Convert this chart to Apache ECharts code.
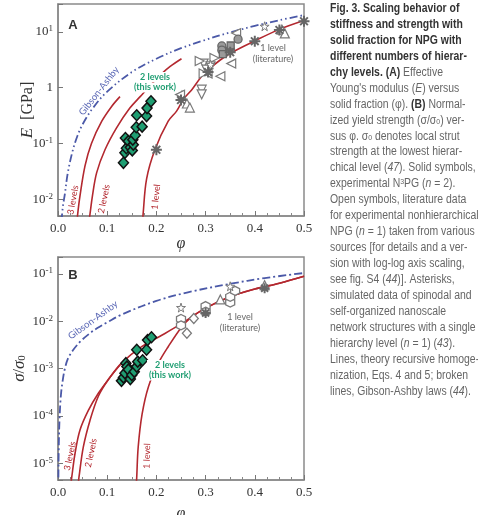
<!DOCTYPE html>
<html><head><meta charset="utf-8">
<script src="https://cdn.jsdelivr.net/npm/echarts@6/dist/echarts.min.js"></script>
<style>html,body{margin:0;padding:0;background:#fff;}#c{width:478px;height:515px;}</style>
</head><body><div id="c"></div>
<script>
// ---------------- DATA ----------------
const xTickValues = [0, 0.1, 0.2, 0.3, 0.4, 0.5];

// Panel A: E [GPa] vs phi
const gibsonAshbyA = [[0.007,0.004],[0.01,0.0075],[0.014,0.0125],[0.02,0.03],[0.03,0.075],[0.04,0.14],[0.05,0.22],[0.07,0.42],[0.1,0.85],[0.15,1.9],[0.2,3.3],[0.25,5.1],[0.3,7.2],[0.35,9.8],[0.4,12.8],[0.45,16.2],[0.5,20]];
const threeLevelsA = [[0.039,0.004],[0.040,0.0054],[0.0447,0.0115],[0.055,0.04],[0.068,0.1],[0.089,0.25],[0.109,0.46],[0.126,0.69]];
const twoLevelsA = [[0.063,0.004],[0.065,0.0054],[0.070,0.0115],[0.0786,0.03],[0.0955,0.077],[0.119,0.19],[0.146,0.43],[0.167,0.69],[0.19,1.15],[0.21,1.75],[0.228,2.4],[0.251,3.3]];
const oneLevelA = [[0.172,0.004],[0.173,0.0054],[0.18,0.023],[0.197,0.077],[0.224,0.25],[0.241,0.38],[0.255,0.62],[0.272,0.92],[0.295,1.7],[0.329,3.1],[0.356,4.4],[0.397,6.7],[0.451,11.2],[0.5,16]];
const greenA = [[0.133,0.045],[0.136,0.068],[0.139,0.082],[0.137,0.125],[0.143,0.11],[0.147,0.085],[0.151,0.075],[0.153,0.095],[0.152,0.117],[0.157,0.14],[0.159,0.195],[0.160,0.32],[0.171,0.2],[0.180,0.31],[0.181,0.43],[0.189,0.57]];
const asteriskA = [[0.2,0.077],[0.25,0.6],[0.305,1.9],[0.35,4.3],[0.4,6.8],[0.45,10.8],[0.5,15.5]];
const triUpA = [[0.252,0.72],[0.262,0.52],[0.268,0.44],[0.455,11],[0.461,9.4]];
const triDownA = [[0.292,0.92],[0.292,0.76],[0.296,2.7],[0.302,2.1],[0.31,2.4]];
const triLeftA = [[0.248,0.75],[0.33,1.6],[0.352,2.7],[0.362,9.5],[0.304,1.8]];
const triRightA = [[0.288,3.0],[0.296,1.8],[0.318,3.4]];
const circleA = [[0.333,5.6],[0.333,4.7],[0.35,4.8],[0.366,7.4]];
const squareA = [[0.351,5.7],[0.335,4.0]];
const starA = [[0.42,12.6],[0.31,2.6]];

// Panel B: sigma/sigma0 vs phi
const gibsonAshbyB = [[0.0008,0.000005],[0.0015,0.00002],[0.003,0.00008],[0.006,0.00028],[0.01,0.0006],[0.014,0.001],[0.02,0.0016],[0.03,0.0024],[0.045,0.0037],[0.062,0.0053],[0.08,0.0072],[0.1,0.0095],[0.13,0.014],[0.2,0.027],[0.264,0.041],[0.35,0.062],[0.42,0.082],[0.5,0.105]];
const threeLevelsB = [[0.026,0.0000035],[0.028,0.0000051],[0.0346,0.000016],[0.0447,0.00005],[0.0617,0.00013],[0.082,0.0003],[0.102,0.00058],[0.129,0.0013],[0.17,0.0029],[0.21,0.005],[0.25,0.0088],[0.3,0.019],[0.35,0.033],[0.4,0.048],[0.45,0.064],[0.5,0.09]];
const twoLevelsB = [[0.041,0.0000035],[0.0427,0.0000051],[0.0515,0.000022],[0.065,0.00008],[0.082,0.00026],[0.102,0.00058],[0.129,0.0013]];
const oneLevelB = [[0.159,0.0000035],[0.16,0.000005],[0.163,0.000022],[0.171,0.00011],[0.184,0.00042],[0.204,0.0013],[0.224,0.0029],[0.251,0.0075],[0.27,0.012],[0.3,0.019],[0.35,0.033],[0.4,0.048],[0.45,0.064],[0.5,0.09]];
const greenB = [[0.129,0.00055],[0.133,0.00065],[0.136,0.0008],[0.138,0.0013],[0.14,0.0011],[0.143,0.00095],[0.147,0.0006],[0.15,0.00073],[0.155,0.00086],[0.16,0.0011],[0.16,0.0025],[0.162,0.0014],[0.172,0.0015],[0.18,0.0025],[0.182,0.004],[0.19,0.0046]];
const starB = [[0.25,0.0195],[0.35,0.055]];
const hexB = [[0.25,0.0112],[0.25,0.0082],[0.3,0.021],[0.35,0.025],[0.35,0.033],[0.36,0.044],[0.3,0.016]];
const diamondB = [[0.262,0.0056],[0.276,0.0115]];
const triUpB = [[0.33,0.029],[0.42,0.058]];
const asteriskB = [[0.3,0.015],[0.42,0.05]];

const captionLines = [
  '{h|Fig. 3. Scaling behavior of}',
  '{h|stiffness and strength with}',
  '{h|solid fraction for NPG with}',
  '{h|different numbers of hierar-}',
  '{h|chy levels. (A)} Effective',
  "Young's modulus ({i|E}) versus",
  'solid fraction (φ). {h|(B)} Normal-',
  'ized yield strength (σ/σ{sub|0}) ver-',
  'sus φ. σ{sub|0} denotes local strut',
  'strength at the lowest hierar-',
  'chical level ({i|47}). Solid symbols,',
  'experimental N{sup|3}PG ({i|n} = 2).',
  'Open symbols, literature data',
  'for experimental nonhierarchical',
  'NPG ({i|n} = 1) taken from various',
  'sources [for details and a ver-',
  'sion with log-log axis scaling,',
  'see fig. S4 ({i|44})]. Asterisks,',
  'simulated data of spinodal and',
  'self-organized nanoscale',
  'network structures with a single',
  'hierarchy level ({i|n} = 1) ({i|43}).',
  'Lines, theory recursive homoge-',
  'nization, Eqs. 4 and 5; broken',
  'lines, Gibson-Ashby laws ({i|44}).'
];

// ---------------- STYLES ----------------
const RED = '#b3282f', BLUE = '#4b59a8', GREEN = '#1f9e72', GRAY = '#7a7a7a';
const SERIF = "'Liberation Serif','DejaVu Serif',serif";
const SANS = "Lato,'Open Sans',sans-serif";
const CAP = "'Liberation Sans',Arial,sans-serif";
const ASTER = 'path://M0,-10L0,10M-10,0L10,0M-7,-7L7,7M-7,7L7,-7';
const STAR = 'path://M50,0L61,35L98,35L68,57L79,91L50,70L21,91L32,57L2,35L39,35Z';
const HEX = 'path://M0,-10L8.66,-5L8.66,5L0,10L-8.66,5L-8.66,-5Z';

function powLabel(v) {
  const l = Math.log10(v), r = Math.round(l);
  if (Math.abs(l - r) > 1e-6) return '';
  if (r === 0) return '{b|1}';
  return '{b|10}{s|' + (r < 0 ? '-' : '') + Math.abs(r) + '}';
}
function xAx(gi, gap) {
  return {
    type: 'value', gridIndex: gi, min: 0, max: 0.5, interval: 0.1,
    axisLine: { show: true, lineStyle: { color: '#8a8a8a', width: 1.5 } },
    axisTick: { inside: true, length: 5, lineStyle: { color: '#777' } },
    minorTick: { show: true, splitNumber: 4, length: 3, lineStyle: { color: '#888' } },
    splitLine: { show: false },
    axisLabel: { margin: 6, fontFamily: SERIF, fontSize: 13, color: '#333', formatter: v => v.toFixed(1) },
    name: 'φ', nameLocation: 'middle', nameGap: gap, nameMoveOverlap: false,
    nameTextStyle: { fontFamily: SERIF, fontStyle: 'italic', fontSize: 16, color: '#333' }
  };
}
function yAx(gi, min, max, name, nameGap) {
  return {
    type: 'log', logBase: 10, gridIndex: gi, min: min, max: max,
    axisLine: { show: true, lineStyle: { color: '#8a8a8a', width: 1.5 } },
    axisTick: { inside: true, length: 5, lineStyle: { color: '#777' } },
    splitLine: { show: false },
    axisLabel: {
      margin: 5, formatter: powLabel,
      rich: {
        b: { fontFamily: SERIF, fontSize: 13, color: '#333', lineHeight: 15 },
        s: { fontFamily: SERIF, fontSize: 9, color: '#333', lineHeight: 9, verticalAlign: 'top' }
      }
    },
    name: name, nameLocation: 'middle', nameGap: nameGap, nameRotate: 90, nameMoveOverlap: false,
    nameTextStyle: {
      rich: {
        i: { fontFamily: SERIF, fontStyle: 'italic', fontSize: 17, color: '#333' },
        r: { fontFamily: SERIF, fontSize: 16, color: '#333' },
        sub: { fontFamily: SERIF, fontSize: 11, color: '#333', verticalAlign: 'bottom', lineHeight: 10 }
      }
    }
  };
}
function curve(data, xi, color, width, type) {
  return { type: 'line', xAxisIndex: xi, yAxisIndex: xi, data: data, smooth: 0.35, symbol: 'none', clip: true, z: 2,
    lineStyle: { color: color, width: width, type: type || 'solid' } };
}
function pts(data, xi, symbol, size, rot, fill, border, bw, z) {
  return { type: 'scatter', xAxisIndex: xi, yAxisIndex: xi, data: data, symbol: symbol, symbolSize: size,
    symbolRotate: rot || 0, z: z || 3,
    itemStyle: { color: fill, borderColor: border, borderWidth: bw, opacity: 1 } };
}
function txt(x, y, text, font, fill, rot) {
  return { type: 'text', x: x, y: y, rotation: (rot || 0) * Math.PI / 180, z: 100,
    style: { text: text, font: font, fill: fill, align: 'center', verticalAlign: 'middle' } };
}

const series = [
  curve(gibsonAshbyA, 0, BLUE, 1.8, [8, 3, 1.5, 3, 1.5, 3]),
  curve(threeLevelsA, 0, RED, 1.6),
  curve(twoLevelsA, 0, RED, 1.6),
  curve(oneLevelA, 0, RED, 1.6),
  pts(triUpA, 0, 'triangle', 9, 0, '#fff', GRAY, 1.2),
  pts(triDownA, 0, 'triangle', 9, 180, '#fff', GRAY, 1.2),
  pts(triLeftA, 0, 'triangle', 9, 90, '#fff', GRAY, 1.2),
  pts(triRightA, 0, 'triangle', 9, -90, '#fff', GRAY, 1.2),
  pts(circleA, 0, 'circle', 8, 0, '#9a9a9a', '#666', 1.3),
  pts(squareA, 0, 'rect', 7, 0, '#9a9a9a', '#666', 1.3),
  pts(starA, 0, STAR, 9, 0, '#fff', GRAY, 1),
  pts(asteriskA, 0, ASTER, 11, 0, '#666', '#666', 2),
  pts(greenA, 0, 'diamond', [10, 11], 0, GREEN, '#111', 1.5, 4),

  curve(gibsonAshbyB, 1, BLUE, 1.8, [8, 3, 2, 3]),
  curve(threeLevelsB, 1, RED, 1.6),
  curve(twoLevelsB, 1, RED, 1.6),
  curve(oneLevelB, 1, RED, 1.6),
  pts(hexB, 1, HEX, 9, 0, '#fff', GRAY, 1.3),
  pts(diamondB, 1, 'diamond', [9, 10], 0, '#fff', GRAY, 1.3),
  pts(triUpB, 1, 'triangle', 9, 0, '#fff', GRAY, 1.2),
  pts(starB, 1, STAR, 9, 0, '#fff', GRAY, 1),
  pts(asteriskB, 1, ASTER, 10, 0, '#666', '#666', 2),
  pts(greenB, 1, 'diamond', [10, 11], 0, GREEN, '#111', 1.5, 4)
];

const graphics = [
  txt(73, 25, 'A', "bold 13px 'Liberation Sans',Arial,sans-serif", '#333'),
  txt(73, 275, 'B', "bold 13px 'Liberation Sans',Arial,sans-serif", '#333'),
  txt(99, 91, 'Gibson-Ashby', '9.5px ' + SANS, '#5a67b5', 52),
  txt(93, 320, 'Gibson-Ashby', '9.5px ' + SANS, '#5a67b5', 36),
  txt(155, 77, '2 levels', 'bold 9px ' + SANS, GREEN),
  txt(155, 87.5, '(this work)', 'bold 9px ' + SANS, GREEN),
  txt(170, 365, '2 levels', 'bold 9px ' + SANS, GREEN),
  txt(170, 375.5, '(this work)', 'bold 9px ' + SANS, GREEN),
  txt(273, 48, '1 level', '9px ' + SANS, '#666'),
  txt(273, 59.5, '(literature)', '9px ' + SANS, '#666'),
  txt(240, 317, '1 level', '9px ' + SANS, '#666'),
  txt(240, 328.5, '(literature)', '9px ' + SANS, '#666'),
  txt(73, 200, '3 levels', '9px ' + SANS, RED, 80),
  txt(104, 199, '2 levels', '9px ' + SANS, RED, 78),
  txt(156, 197, '1 level', '9px ' + SANS, RED, 84),
  txt(70, 456, '3 levels', '9px ' + SANS, RED, 78),
  txt(91, 453, '2 levels', '9px ' + SANS, RED, 78),
  txt(147, 456, '1 level', '9px ' + SANS, RED, 88)
];
// white backing for the green labels (they hide the curves beneath)
[[155, 77], [155, 87.5], [170, 365], [170, 375.5]].forEach(p => {
  graphics.push({ type: 'rect', shape: { x: p[0] - 23, y: p[1] - 5, width: 46, height: 10 }, style: { fill: '#fff' }, z: 99 });
});
const capChildren = captionLines.map((line, k) => ({
  type: 'text', x: 0, y: 8.6 + k * 15.95,
  style: {
    text: line, font: '12px ' + CAP, fill: '#666', align: 'left', verticalAlign: 'middle',
    rich: {
      h: { font: 'bold 12px ' + CAP, fill: '#333' },
      i: { font: 'italic 12px ' + CAP, fill: '#666' },
      sub: { font: '8px ' + CAP, fill: '#666', verticalAlign: 'bottom', lineHeight: 8 },
      sup: { font: '8px ' + CAP, fill: '#666', verticalAlign: 'top', lineHeight: 8 }
    }
  }
}));
graphics.push({ type: 'group', x: 330, y: 0, scaleX: 0.87, scaleY: 1, z: 100, children: capChildren });

const chart = echarts.init(document.getElementById('c'), null, { renderer: 'canvas' });
chart.setOption({
  animation: false,
  backgroundColor: '#fff',
  grid: [
    { left: 58, top: 4, width: 246, height: 212, show: true, borderColor: '#8a8a8a', borderWidth: 1.5, outerBoundsMode: 'none', containLabel: false },
    { left: 58, top: 257, width: 246, height: 223, show: true, borderColor: '#8a8a8a', borderWidth: 1.5, outerBoundsMode: 'none', containLabel: false }
  ],
  xAxis: [xAx(0, 20), xAx(1, 26)],
  yAxis: [
    yAx(0, 0.005, 31.6, '{i|E}{r|  [GPa]}', 22),
    yAx(1, 0.0000044, 0.229, '{i|σ}{r|/}{i|σ}{sub|0}', 30)
  ],
  series: series,
  graphic: graphics
});
</script>
</body></html>
